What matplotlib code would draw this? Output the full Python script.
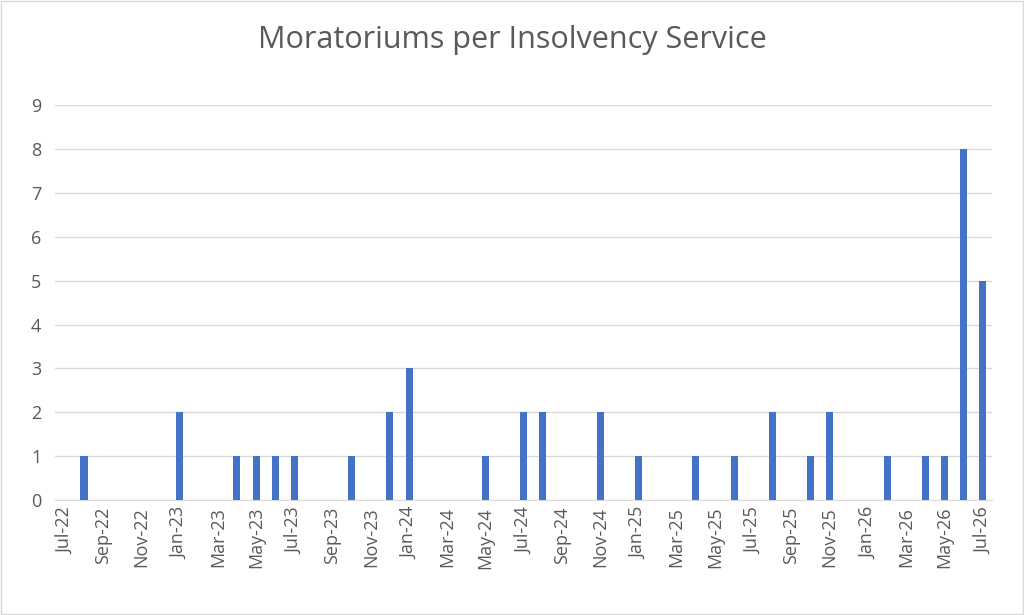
import numpy as np
import matplotlib
matplotlib.use("Agg")
import matplotlib.pyplot as plt

months = []
for y in range(22, 27):
    for m in ["Jan", "Feb", "Mar", "Apr", "May", "Jun", "Jul", "Aug", "Sep", "Oct", "Nov", "Dec"]:
        months.append(f"{m}-{y}")
months = months[months.index("Jul-22"):months.index("Jul-26") + 1]

counts_by_month = {
    "Aug-22": 1, "Jan-23": 2, "Apr-23": 1, "May-23": 1, "Jun-23": 1, "Jul-23": 1,
    "Oct-23": 1, "Dec-23": 2, "Jan-24": 3, "May-24": 1, "Jul-24": 2, "Aug-24": 2,
    "Nov-24": 2, "Jan-25": 1, "Apr-25": 1, "Jun-25": 1, "Aug-25": 2, "Oct-25": 1,
    "Nov-25": 2, "Feb-26": 1, "Apr-26": 1, "May-26": 1, "Jun-26": 8, "Jul-26": 5,
}
values = [counts_by_month.get(m, 0) for m in months]

plt.rcParams['font.family'] = ['Open Sans', 'DejaVu Sans']
grey = '#595959'

fig = plt.figure(figsize=(10.24, 6.15), dpi=100)
ax = fig.add_axes([0.054, 0.187, 0.915, 0.642])
x = np.arange(len(months))
ax.bar(x, values, width=0.37, color='#4472C4', zorder=3)

ax.set_xlim(-0.5, len(months) - 0.5)
ax.set_ylim(0, 9)
ax.set_yticks(range(10))
ax.set_xticks(x[::2])
ax.set_xticklabels(months[::2], rotation=90, fontsize=13, color=grey)
ax.tick_params(axis='y', labelsize=13, colors=grey, length=0, pad=10)
ax.tick_params(axis='x', length=0, pad=5)
ax.grid(axis='y', color='#D9D9D9', linewidth=1, zorder=0)
for s in ['top', 'right', 'left']:
    ax.spines[s].set_visible(False)
ax.spines['bottom'].set_color('#D9D9D9')

fig.suptitle("Moratoriums per Insolvency Service", fontsize=22, color=grey, y=0.96)
fig.patches.append(plt.Rectangle((0.001, 0.001), 0.998, 0.997, transform=fig.transFigure,
                                 fill=False, edgecolor='#D9D9D9', linewidth=1))
fig.savefig("out.png", dpi=100)
